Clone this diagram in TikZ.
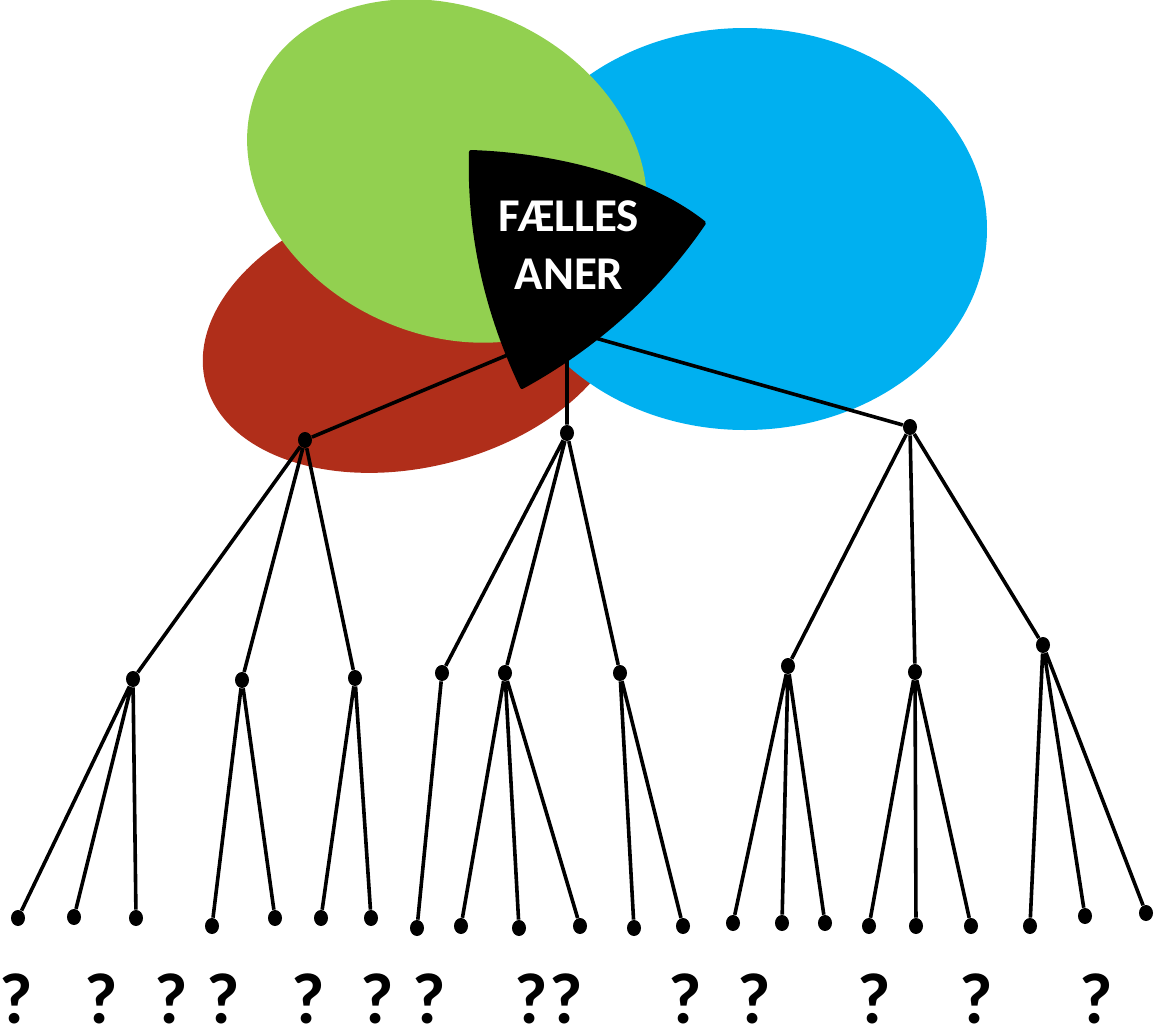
\documentclass[tikz,border=0pt]{standalone}
\usepackage{fontspec}
\setmainfont{Carlito}
\usepackage{tikz}
\usetikzlibrary{shapes.geometric}
\definecolor{redanc}{HTML}{B02E1A}
\definecolor{greenanc}{HTML}{92D050}
\definecolor{blueanc}{HTML}{00B0F0}

\begin{document}
\begin{tikzpicture}[
        x=0.5pt, y=-0.5pt,
        dot/.style={
            ellipse,
            fill=black,
            inner sep=0pt,
            minimum width=7pt,
            minimum height=8pt
        },
        edge/.style={
            line width=1.8pt,
            color=black
        },
        unknown/.style={
            inner sep=0pt,
            font=\bfseries\fontsize{36}{36}\selectfont
        },
        commontext/.style={
            inner sep=0pt,
            text=white,
            align=center,
            font=\bfseries\fontsize{23.5}{29}\selectfont
        }
    ]
        \useasboundingbox (0,0) rectangle (1158,1034);

        % the three families
        \fill[redanc, shift={(415,330)}, rotate=14] (0,0) ellipse [x radius=108pt, y radius=68.5pt];
        \fill[blueanc] (745,229) ellipse [x radius=121pt, y radius=100.5pt];
        \fill[greenanc, shift={(447,171)}, rotate=-25] (0,0) ellipse [x radius=103.5pt, y radius=81.5pt];

        % generations
        \coordinate (root) at (567,330);
        \node[dot] (l) at (305,440) {};
        \node[dot] (m) at (567,433) {};
        \node[dot] (r) at (910,427) {};

        \node[dot] (la) at (133,679) {};
        \node[dot] (lb) at (242,680) {};
        \node[dot] (lc) at (355,678) {};
        \node[dot] (ma) at (442,673) {};
        \node[dot] (mb) at (505,673) {};
        \node[dot] (mc) at (620,673) {};
        \node[dot] (ra) at (788,666) {};
        \node[dot] (rb) at (915,672) {};
        \node[dot] (rc) at (1043,645) {};

        \node[dot] (la1) at (18,918) {};
        \node[dot] (la2) at (74,917) {};
        \node[dot] (la3) at (136,918) {};
        \node[dot] (lb1) at (212,926) {};
        \node[dot] (lb2) at (275,918) {};
        \node[dot] (lc1) at (321,918) {};
        \node[dot] (lc2) at (371,918) {};
        \node[dot] (ma1) at (417,928) {};
        \node[dot] (mb1) at (461,926) {};
        \node[dot] (mb2) at (519,928) {};
        \node[dot] (mb3) at (580,926) {};
        \node[dot] (mc1) at (634,928) {};
        \node[dot] (mc2) at (683,926) {};
        \node[dot] (ra1) at (733,923) {};
        \node[dot] (ra2) at (782,923) {};
        \node[dot] (ra3) at (825,923) {};
        \node[dot] (rb1) at (869,926) {};
        \node[dot] (rb2) at (916,926) {};
        \node[dot] (rb3) at (971,926) {};
        \node[dot] (rc1) at (1030,926) {};
        \node[dot] (rc2) at (1085,916) {};
        \node[dot] (rc3) at (1146,913) {};

        \draw[edge] (root) -- (l) (root) -- (m) (root) -- (r);
        \draw[edge] (l) -- (la) (l) -- (lb) (l) -- (lc);
        \draw[edge] (m) -- (ma) (m) -- (mb) (m) -- (mc);
        \draw[edge] (r) -- (ra) (r) -- (rb) (r) -- (rc);
        \draw[edge] (la) -- (la1) (la) -- (la2) (la) -- (la3);
        \draw[edge] (lb) -- (lb1) (lb) -- (lb2);
        \draw[edge] (lc) -- (lc1) (lc) -- (lc2);
        \draw[edge] (ma) -- (ma1);
        \draw[edge] (mb) -- (mb1) (mb) -- (mb2) (mb) -- (mb3);
        \draw[edge] (mc) -- (mc1) (mc) -- (mc2);
        \draw[edge] (ra) -- (ra1) (ra) -- (ra2) (ra) -- (ra3);
        \draw[edge] (rb) -- (rb1) (rb) -- (rb2) (rb) -- (rb3);
        \draw[edge] (rc) -- (rc1) (rc) -- (rc2) (rc) -- (rc3);

        % shared ancestors
        \filldraw[black, line width=2pt, line join=round]
            (471,152) .. controls (560,155) and (650,180) .. (704,223)
            .. controls (655,295) and (590,350) .. (522,387)
            .. controls (495,330) and (468,250) .. cycle;
        \node[commontext] (common) at (569,245) {FÆLLES\\ANER};

        % unknown descendants
        \node[unknown] (q1) at (16,999) {?};
        \node[unknown] (q2) at (101,999) {?};
        \node[unknown] (q3) at (171,999) {?};
        \node[unknown] (q4) at (223,999) {?};
        \node[unknown] (q5) at (308,999) {?};
        \node[unknown] (q6) at (377,999) {?};
        \node[unknown] (q7) at (429,999) {?};
        \node[unknown] (q8) at (531,999) {?};
        \node[unknown] (q9) at (566,999) {?};
        \node[unknown] (q10) at (685,999) {?};
        \node[unknown] (q11) at (754,999) {?};
        \node[unknown] (q12) at (874,999) {?};
        \node[unknown] (q13) at (976,999) {?};
        \node[unknown] (q14) at (1096,999) {?};
    \end{tikzpicture}
\end{document}
